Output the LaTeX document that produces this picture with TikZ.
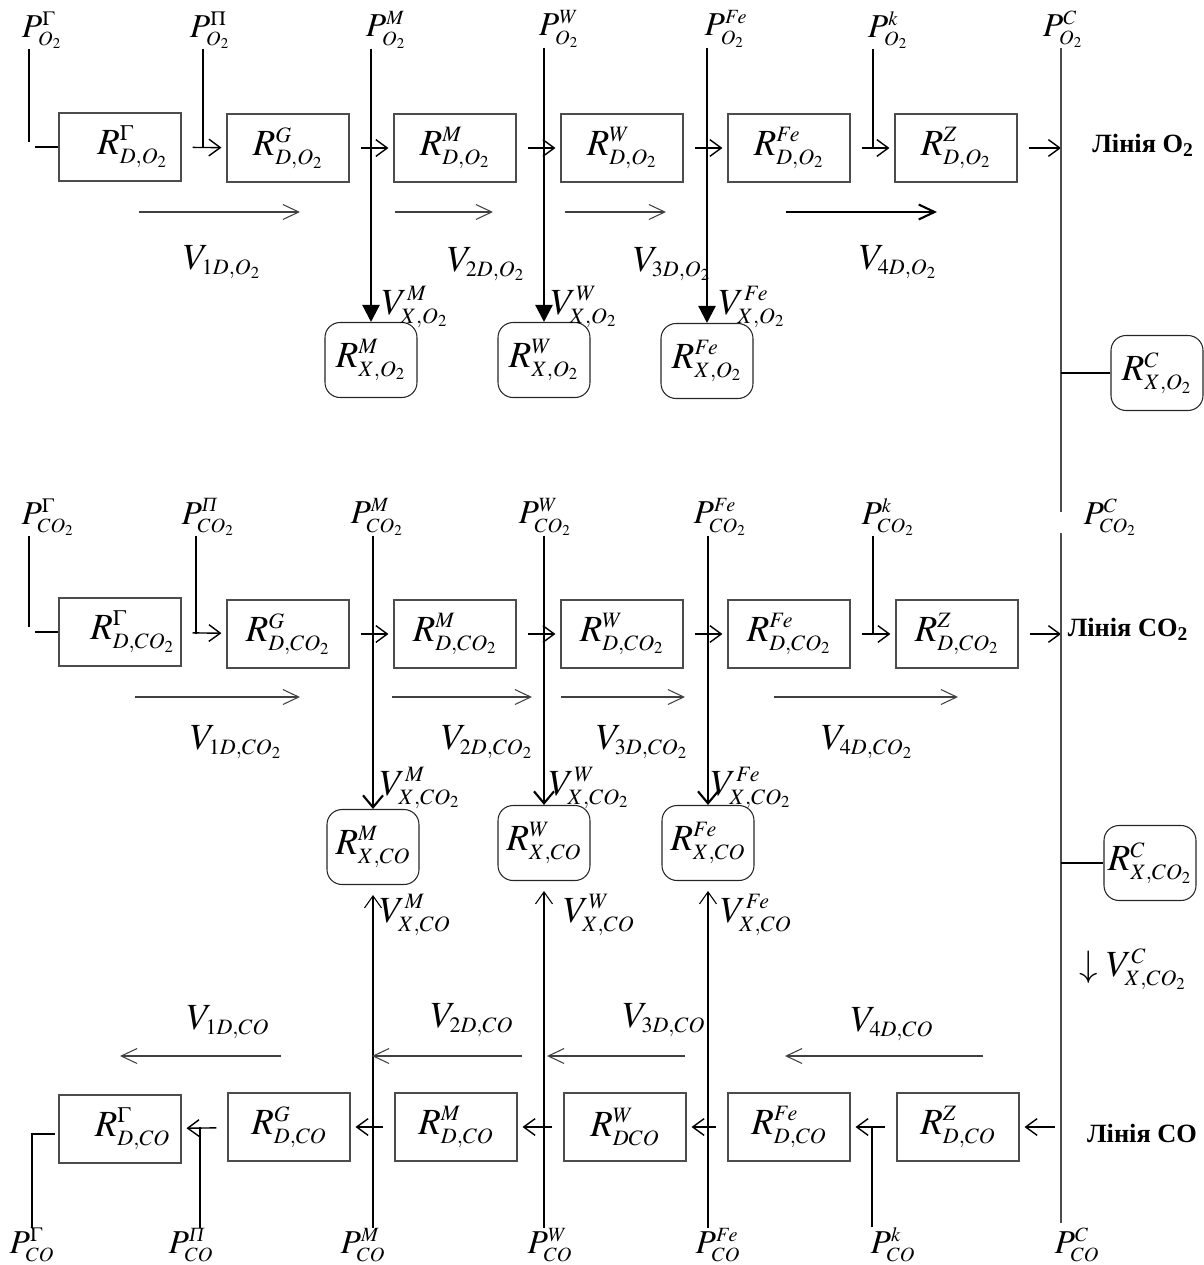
\documentclass[tikz,border=0pt]{standalone}
\usepackage{amsmath}
\usepackage{mathptmx}
\usepackage{fontspec}
\setmainfont{Liberation Serif}
\usetikzlibrary{arrows.meta}
\DeclareMathSizes{21}{21}{12.5}{9.5}
\DeclareMathSizes{19}{19}{11.5}{8.5}

\tikzset{
  dbox/.style={draw=black!70, line width=0.6pt, minimum width=2.44cm, minimum height=1.36cm, inner sep=0pt, font=\fontsize{21}{25}\selectfont},
  xbox/.style={draw=black!85, line width=0.6pt, rounded corners=0.3cm, minimum width=1.84cm, minimum height=1.5cm, inner sep=0pt, font=\fontsize{21}{25}\selectfont},
  plab/.style={inner sep=0pt, font=\fontsize{19}{22}\selectfont},
  vlab/.style={inner sep=0pt, font=\fontsize{21}{25}\selectfont},
  linelab/.style={inner sep=0pt, font=\bfseries\fontsize{15}{18}\selectfont},
  thinline/.style={line width=0.6pt},
  feed/.style={line width=0.8pt, -{Straight Barb[length=6.5pt,width=9.5pt]}, shorten <=0.22cm, shorten >=0.1cm},
  drop/.style={line width=1.3pt, -{Triangle[length=0.34cm,width=0.34cm]}},
  dropopen/.style={line width=1.2pt, -{Straight Barb[length=0.24cm,width=0.4cm]}},
  rise/.style={line width=0.6pt, -{Straight Barb[length=0.24cm,width=0.34cm]}, shorten >=0.2cm},
  flow/.style={line width=0.6pt, draw=black!75, -{Straight Barb[length=9pt,width=8.5pt]}},
}

\begin{document}
\begin{tikzpicture}[x=0.02cm, y=-0.02cm]
    \useasboundingbox (0,0) rectangle (1204,1265);

    \coordinate (lineA) at (1061,512);
    \coordinate (lineB) at (1061,533);
    \coordinate (lineC) at (1061,1223);

    \node[plab] (PO2gam) at (42,30) {$P^{\Gamma}_{O_2}$};
    \node[plab] (PO2pi) at (210,30) {$P^{\Pi}_{O_2}$};
    \node[plab] (PO2m) at (386,30) {$P^{M}_{O_2}$};
    \node[plab] (PO2w) at (559,29) {$P^{W}_{O_2}$};
    \node[plab] (PO2fe) at (726,29) {$P^{Fe}_{O_2}$};
    \node[plab] (PO2k) at (888,30) {$P^{k}_{O_2}$};
    \node[plab] (PO2c) at (1063,29) {$P^{C}_{O_2}$};

    \node[dbox] (DO2gam) at (120,147) {\hspace{0.5cm}$R^{\Gamma}_{D,O_2}$};
    \node[dbox] (DO2g) at (288,148) {$R^{G}_{D,O_2}$};
    \node[dbox] (DO2m) at (455,148) {$R^{M}_{D,O_2}$};
    \node[dbox] (DO2w) at (622,148) {$R^{W}_{D,O_2}$};
    \node[dbox] (DO2fe) at (789,148) {$R^{Fe}_{D,O_2}$};
    \node[dbox] (DO2z) at (956,148) {$R^{Z}_{D,O_2}$};
    \node[linelab] (LO2) at (1143,145) {Лінія O\textsubscript{2}};

    \node[xbox] (XO2m) at (371,360) {$R^{M}_{X,O_2}$};
    \node[xbox] (XO2w) at (544,360) {$R^{W}_{X,O_2}$};
    \node[xbox] (XO2fe) at (707,361) {$R^{Fe}_{X,O_2}$};
    \node[xbox] (XO2c) at (1157,373) {$R^{C}_{X,O_2}$};

    \node[vlab] (VXO2m) at (415,307) {$V^{M}_{X,O_2}$};
    \node[vlab] (VXO2w) at (584,307) {$V^{W}_{X,O_2}$};
    \node[vlab] (VXO2fe) at (752,307) {$V^{Fe}_{X,O_2}$};

    \node[vlab] (VO2a) at (222,262) {$V_{1D,O_2}$};
    \node[vlab] (VO2b) at (486,264) {$V_{2D,O_2}$};
    \node[vlab] (VO2c) at (672,264) {$V_{3D,O_2}$};
    \node[vlab] (VO2d) at (898,262) {$V_{4D,O_2}$};

    \coordinate (jO2gam) at (29,142);
    \coordinate (jO2pi) at (203,148);
    \coordinate (jO2k) at (873,148);
    \coordinate (fO2a) at (139,212);
    \coordinate (tO2a) at (300,212);
    \coordinate (fO2b) at (395,212);
    \coordinate (tO2b) at (493,212);
    \coordinate (fO2c) at (565,212);
    \coordinate (tO2c) at (666,212);
    \coordinate (fO2d) at (786,212);
    \coordinate (tO2d) at (937,212);

    \draw[thinline] (PO2gam.south -| jO2gam) -- (jO2gam);
    \draw[thinline] (DO2gam.west) -- ++(-23,0);
    \draw[thinline] (PO2pi.south -| jO2pi) -- (jO2pi);
    \draw[thinline] (PO2k.south -| jO2k) -- (jO2k);
    \draw[drop] (XO2m.north |- PO2m.south) -- (XO2m.north);
    \draw[drop] (XO2w.north |- PO2w.south) -- (XO2w.north);
    \draw[drop] (XO2fe.north |- PO2fe.south) -- (XO2fe.north);
    \draw[feed] (DO2gam) -- (DO2g);
    \draw[feed] (DO2g) -- (DO2m);
    \draw[feed] (DO2m) -- (DO2w);
    \draw[feed] (DO2w) -- (DO2fe);
    \draw[feed] (DO2fe) -- (DO2z);
    \draw[feed, shorten >=0pt] (DO2z) -- (DO2z -| lineA);
    \draw[thinline, black!70] (PO2c.south -| lineA) -- (lineA);
    \draw[thinline] (XO2c.west) -- (XO2c.west -| lineA);
    \draw[flow] (fO2a) -- (tO2a);
    \draw[flow] (fO2b) -- (tO2b);
    \draw[flow] (fO2c) -- (tO2c);
    \draw[flow, line width=1.2pt, draw=black] (fO2d) -- (tO2d);

    \node[plab] (PCO2gam) at (48,517) {$P^{\Gamma}_{CO_2}$};
    \node[plab] (PCO2pi) at (208,517) {$P^{\textit{Π}}_{CO_2}$};
    \node[plab] (PCO2m) at (377,517) {$P^{M}_{CO_2}$};
    \node[plab] (PCO2w) at (545,517) {$P^{W}_{CO_2}$};
    \node[plab] (PCO2fe) at (720,517) {$P^{Fe}_{CO_2}$};
    \node[plab] (PCO2k) at (888,517) {$P^{k}_{CO_2}$};
    \node[plab] (PCO2c) at (1110,517) {$P^{C}_{CO_2}$};

    \node[dbox] (DCO2gam) at (120,632) {\hspace{0.5cm}$R^{\Gamma}_{D,CO_2}$};
    \node[dbox] (DCO2g) at (288,634) {$R^{G}_{D,CO_2}$};
    \node[dbox] (DCO2m) at (455,634) {$R^{M}_{D,CO_2}$};
    \node[dbox] (DCO2w) at (622,634) {$R^{W}_{D,CO_2}$};
    \node[dbox] (DCO2fe) at (789,634) {$R^{Fe}_{D,CO_2}$};
    \node[dbox] (DCO2z) at (957,634) {$R^{Z}_{D,CO_2}$};
    \node[linelab] (LCO2) at (1128,629) {Лінія CO\textsubscript{2}};

    \node[xbox] (XCOm) at (373,847) {$R^{M}_{X,CO}$};
    \node[xbox] (XCOw) at (544,843) {$R^{W}_{X,CO}$};
    \node[xbox] (XCOfe) at (708,843) {$R^{Fe}_{X,CO}$};
    \node[xbox] (XCO2c) at (1150,863) {$R^{C}_{X,CO_2}$};

    \node[vlab] (VXCO2m) at (420,788) {$V^{M}_{X,CO_2}$};
    \node[vlab] (VXCO2w) at (589,788) {$V^{W}_{X,CO_2}$};
    \node[vlab] (VXCO2fe) at (751,788) {$V^{Fe}_{X,CO_2}$};
    \node[vlab] (VXCO2c) at (1133,969) {$\downarrow V^{C}_{X,CO_2}$};

    \node[vlab] (VCO2a) at (236,742) {$V_{1D,CO_2}$};
    \node[vlab] (VCO2b) at (487,742) {$V_{2D,CO_2}$};
    \node[vlab] (VCO2c) at (642,742) {$V_{3D,CO_2}$};
    \node[vlab] (VCO2d) at (867,742) {$V_{4D,CO_2}$};

    \coordinate (jCO2gam) at (29,627);
    \coordinate (jCO2pi) at (196,634);
    \coordinate (jCO2k) at (873,634);
    \coordinate (fCO2a) at (135,697);
    \coordinate (tCO2a) at (300,697);
    \coordinate (fCO2b) at (392,697);
    \coordinate (tCO2b) at (532,697);
    \coordinate (fCO2c) at (561,697);
    \coordinate (tCO2c) at (685,697);
    \coordinate (fCO2d) at (774,697);
    \coordinate (tCO2d) at (958,697);

    \draw[thinline] (PCO2gam.south -| jCO2gam) -- (jCO2gam);
    \draw[thinline] (DCO2gam.west) -- ++(-23,0);
    \draw[thinline] (PCO2pi.south -| jCO2pi) -- (jCO2pi);
    \draw[thinline] (PCO2k.south -| jCO2k) -- (jCO2k);
    \draw[dropopen] (XCOm.north |- PCO2m.south) -- (XCOm.north);
    \draw[dropopen] (XCOw.north |- PCO2w.south) -- (XCOw.north);
    \draw[dropopen] (XCOfe.north |- PCO2fe.south) -- (XCOfe.north);
    \draw[feed] (DCO2gam) -- (DCO2g);
    \draw[feed] (DCO2g) -- (DCO2m);
    \draw[feed] (DCO2m) -- (DCO2w);
    \draw[feed] (DCO2w) -- (DCO2fe);
    \draw[feed] (DCO2fe) -- (DCO2z);
    \draw[feed, shorten >=0pt] (DCO2z) -- (DCO2z -| lineB);
    \draw[thinline, black!70] (lineB) -- (lineC);
    \draw[thinline] (XCO2c.west) -- (XCO2c.west -| lineB);
    \draw[flow] (fCO2a) -- (tCO2a);
    \draw[flow] (fCO2b) -- (tCO2b);
    \draw[flow] (fCO2c) -- (tCO2c);
    \draw[flow] (fCO2d) -- (tCO2d);

    \node[dbox] (DCOgam) at (120,1129) {\hspace{0.5cm}$R^{\Gamma}_{D,CO}$};
    \node[dbox] (DCOg) at (289,1127) {$R^{G}_{D,CO}$};
    \node[dbox] (DCOm) at (456,1127) {$R^{M}_{D,CO}$};
    \node[dbox] (DCOw) at (625,1127) {$R^{W}_{DCO}$};
    \node[dbox] (DCOfe) at (789,1127) {$R^{Fe}_{D,CO}$};
    \node[dbox] (DCOz) at (958,1127) {$R^{Z}_{D,CO}$};
    \node[linelab] (LCO) at (1142,1133) {Лінія CO};

    \node[plab] (PCOgam) at (32,1245) {$P^{\Gamma}_{CO}$};
    \node[plab] (PCOpi) at (191,1245) {$P^{\textit{Π}}_{CO}$};
    \node[plab] (PCOm) at (363,1245) {$P^{M}_{CO}$};
    \node[plab] (PCOw) at (550,1245) {$P^{W}_{CO}$};
    \node[plab] (PCOfe) at (718,1245) {$P^{Fe}_{CO}$};
    \node[plab] (PCOk) at (893,1245) {$P^{k}_{CO}$};
    \node[plab] (PCOc) at (1077,1245) {$P^{C}_{CO}$};

    \node[vlab] (VXCOm) at (415,915) {$V^{M}_{X,CO}$};
    \node[vlab] (VXCOw) at (599,915) {$V^{W}_{X,CO}$};
    \node[vlab] (VXCOfe) at (756,915) {$V^{Fe}_{X,CO}$};

    \node[vlab] (VCOa) at (228,1022) {$V_{1D,CO}$};
    \node[vlab] (VCOb) at (472,1020) {$V_{2D,CO}$};
    \node[vlab] (VCOc) at (664,1020) {$V_{3D,CO}$};
    \node[vlab] (VCOd) at (892,1024) {$V_{4D,CO}$};

    \coordinate (jCOgam) at (32,1134);
    \coordinate (jCOpi) at (200,1127);
    \coordinate (jCOk) at (872,1127);
    \coordinate (fCOa) at (281,1056);
    \coordinate (tCOa) at (120,1056);
    \coordinate (fCOb) at (522,1056);
    \coordinate (tCOb) at (372,1056);
    \coordinate (fCOc) at (685,1056);
    \coordinate (tCOc) at (547,1056);
    \coordinate (fCOd) at (983,1056);
    \coordinate (tCOd) at (785,1056);

    \draw[thinline] (PCOgam.north -| jCOgam) -- (jCOgam) -- ++(23,0);
    \draw[thinline] (PCOpi.north -| jCOpi) -- (jCOpi);
    \draw[thinline] (PCOk.north -| jCOk) -- (jCOk);
    \draw[rise] (XCOm.south |- PCOm.north) -- (XCOm.south);
    \draw[rise] (XCOw.south |- PCOw.north) -- (XCOw.south);
    \draw[rise] (XCOfe.south |- PCOfe.north) -- (XCOfe.south);
    \draw[feed] (DCOg) -- (DCOgam);
    \draw[feed] (DCOm) -- (DCOg);
    \draw[feed] (DCOw) -- (DCOm);
    \draw[feed] (DCOfe) -- (DCOw);
    \draw[feed] (DCOz) -- (DCOfe);
    \draw[feed, shorten <=0.12cm] (DCOz -| lineC) -- (DCOz);
    \draw[flow] (fCOa) -- (tCOa);
    \draw[flow] (fCOb) -- (tCOb);
    \draw[flow] (fCOc) -- (tCOc);
    \draw[flow] (fCOd) -- (tCOd);
\end{tikzpicture}
\end{document}
